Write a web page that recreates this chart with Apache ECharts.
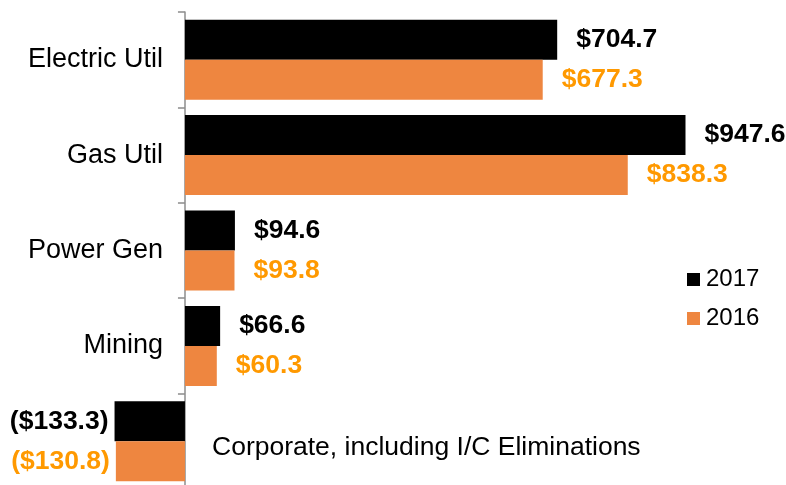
<!DOCTYPE html>
<html>
<head>
<meta charset="utf-8">
<script src="https://cdn.jsdelivr.net/npm/echarts@6/dist/echarts.min.js"></script>
<style>
    html, body { margin: 0; padding: 0; background: #ffffff; }
    #chart { width: 786px; height: 485px; }
</style>
</head>
<body>
<div id="chart"></div>
<script>
var categories = ['Electric Util', 'Gas Util', 'Power Gen', 'Mining', 'Corporate, including I/C Eliminations'];
var values2017 = [704.7, 947.6, 94.6, 66.6, -133.3];
var values2016 = [677.3, 838.3, 93.8, 60.3, -130.8];

var FONT = 'Liberation Sans, Arial, sans-serif';

function money(v) {
    return v >= 0 ? '$' + v.toFixed(1) : '($' + (-v).toFixed(1) + ')';
}

// 负值标签放左边，正值放右边
function makeData(arr, color) {
    return arr.map(function (v) {
        return {
            value: v,
            label: {
                show: true,
                position: v >= 0 ? 'right' : 'left',
                distance: v >= 0 ? 19 : 6,
                formatter: function (p) { return money(p.value); },
                color: color,
                fontFamily: FONT,
                fontSize: 26.5,
                fontWeight: 'bold'
            }
        };
    });
}

var chart = echarts.init(document.getElementById('chart'));

var option = {
    animation: false,
    grid: {
        left: 111,
        top: 12,
        width: 655,
        height: 477,
        containLabel: false,
        outerBoundsMode: 'none'
    },
    legend: {
        orient: 'vertical',
        left: 687,
        top: 267,
        padding: 0,
        itemWidth: 13,
        itemHeight: 13,
        itemGap: 14,
        icon: 'rect',
        textStyle: { fontFamily: FONT, fontSize: 24, color: '#000', lineHeight: 25, padding: [0, 0, 0, 1] },
        data: ['2017', '2016']
    },
    xAxis: {
        type: 'value',
        min: -140,
        max: 1100,
        show: false
    },
    yAxis: {
        type: 'category',
        inverse: true,
        data: categories,
        axisLine: { show: true, lineStyle: { color: '#8c8c8c', width: 1.5 } },
        axisTick: { show: true, length: 7, lineStyle: { color: '#8c8c8c', width: 1.5 } },
        axisLabel: {
            margin: -52,
            fontFamily: FONT,
            fontSize: 27,
            color: '#000',
            formatter: function (v) { return v.indexOf('Corporate') === 0 ? '' : v; }
        }
    },
    series: [
        {
            name: '2017',
            type: 'bar',
            barWidth: 40,
            barGap: '0%',
            itemStyle: { color: '#000000' },
            data: makeData(values2017, '#000000')
        },
        {
            name: '2016',
            type: 'bar',
            barWidth: 40,
            itemStyle: { color: '#EE8640' },
            data: makeData(values2016, '#FF9900')
        }
    ]
};

chart.setOption(option);

// Corporate 的说明文字画在图内
var corpY = chart.convertToPixel({ yAxisIndex: 0 }, categories[4]);
chart.setOption({
    graphic: [{
        type: 'text',
        left: 212,
        top: corpY - 7,
        style: {
            text: categories[4],
            font: '26.5px ' + FONT,
            fill: '#000'
        }
    }]
});
</script>
</body>
</html>
